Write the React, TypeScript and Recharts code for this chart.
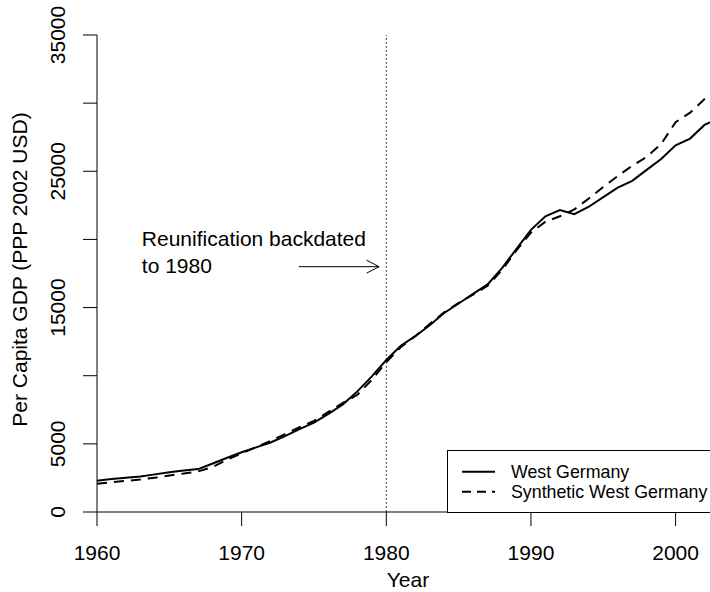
import React from "react";
import { Legend, Line, LineChart, ReferenceDot, ReferenceLine, XAxis, YAxis } from "recharts";

// Per capita GDP, West Germany vs synthetic control.
const years = [
  1960, 1961, 1962, 1963, 1964, 1965, 1966, 1967, 1968, 1969,
  1970, 1971, 1972, 1973, 1974, 1975, 1976, 1977, 1978, 1979,
  1980, 1981, 1982, 1983, 1984, 1985, 1986, 1987, 1988, 1989,
  1990, 1991, 1992, 1993, 1994, 1995, 1996, 1997, 1998, 1999,
  2000, 2001, 2002, 2003,
];

const westGermany = [
  2300, 2420, 2520, 2600, 2760, 2920, 3050, 3150, 3560, 3980,
  4380, 4740, 5100, 5570, 6080, 6560, 7200, 7900, 8850, 9950,
  11150, 12200, 12900, 13700, 14600, 15300, 16000, 16700, 17900, 19300,
  20700, 21700, 22150, 21850, 22400, 23100, 23800, 24300, 25100, 25900,
  26900, 27400, 28400, 28900,
];

const syntheticWestGermany = [
  2080, 2180, 2280, 2380, 2520, 2680, 2820, 2980, 3300, 3850,
  4300, 4760, 5220, 5720, 6220, 6680, 7350, 8000, 8600, 9700,
  11000, 12100, 12900, 13800, 14650, 15350, 15950, 16600, 17750, 19200,
  20500, 21300, 21700, 22200, 23000, 23850, 24650, 25400, 26050, 27000,
  28600, 29300, 30300, 31000,
];

const xTicks = [1960, 1970, 1980, 1990, 2000];
const yTicks = [0, 5000, 10000, 15000, 20000, 25000, 30000, 35000];
const yLabelled = [0, 5000, 15000, 25000, 35000];

const treatmentYear = 1980;
const noteLines = ["Reunification backdated", "to 1980"];
const noteX = 1963.1;
const noteY = 19500;
const arrowFrom = 1973.95;
const arrowTo = 1979.5;
const arrowLevel = 18000;

const series = [
  { key: "west", name: "West Germany", dash: undefined as string | undefined },
  { key: "synth", name: "Synthetic West Germany", dash: "10 7" },
];

const rows = years.map((year, i) => ({
  year,
  west: westGermany[i],
  synth: syntheticWestGermany[i],
}));

const FONT = "'Liberation Sans', Arial, Helvetica, sans-serif";

function YTick(props: any) {
  const { x, y, payload } = props;
  if (!yLabelled.includes(payload.value)) return <g />;
  return (
    <text
      transform={`translate(${x},${y}) rotate(-90)`}
      textAnchor="middle"
      fontSize={21}
      fill="#000"
    >
      {payload.value}
    </text>
  );
}

function LegendBox() {
  return (
    <svg width={330} height={64} style={{ display: "block" }}>
      <rect x={0.5} y={0.5} width={328} height={62} fill="#fff" stroke="#000" strokeWidth={1} />
      {series.map((s, i) => (
        <g key={s.key}>
          <line
            x1={15}
            x2={48}
            y1={21.7 + i * 20}
            y2={21.7 + i * 20}
            stroke="#000"
            strokeWidth={2}
            strokeDasharray={s.dash ? "9 6" : undefined}
          />
          <text x={64} y={28.3 + i * 20} fontSize={17.8} fill="#000" fontFamily={FONT}>
            {s.name}
          </text>
        </g>
      ))}
    </svg>
  );
}

function Arrow(props: any) {
  const { x1, y1, x2, y2 } = props;
  return (
    <g>
      <line x1={x1} y1={y1} x2={x2} y2={y2} stroke="#000" strokeWidth={1} />
      <path
        d={`M${x2 - 12.5},${y2 - 6.5} L${x2},${y2} L${x2 - 12.5},${y2 + 6.5}`}
        fill="none"
        stroke="#000"
        strokeWidth={1}
      />
    </g>
  );
}

function Note(props: any) {
  const { cx, cy } = props;
  return (
    <text x={cx} y={cy} fontSize={21} fill="#000" fontFamily={FONT}>
      {noteLines.map((line, i) => (
        <tspan key={line} x={cx} dy={i === 0 ? 0 : 26.7}>
          {line}
        </tspan>
      ))}
    </text>
  );
}

export default function App() {
  return (
    <div
      style={{
        position: "absolute",
        left: 0,
        top: 0,
        width: 710,
        height: 592,
        overflow: "hidden",
        background: "#fff",
        fontFamily: FONT,
      }}
    >
      <LineChart
        width={760}
        height={592}
        data={rows}
        margin={{ top: 35, right: 41, bottom: 0, left: 0 }}
      >
        <XAxis
          dataKey="year"
          type="number"
          domain={[1960, 2003]}
          ticks={xTicks}
          interval={0}
          height={80}
          stroke="#000"
          tickSize={14}
          tickMargin={19}
          tick={{ fill: "#000", fontSize: 21 }}
          label={{
            content: (p: any) => {
              const vb = p.viewBox;
              return (
                <text x={vb.x + vb.width / 2} y={vb.y + 75} textAnchor="middle" fontSize={21} fill="#000">
                  Year
                </text>
              );
            },
          }}
        />
        <YAxis
          type="number"
          domain={[0, 35000]}
          ticks={yTicks}
          interval={0}
          width={97}
          stroke="#000"
          tickSize={14}
          tickMargin={18}
          tick={<YTick />}
          label={{
            content: (p: any) => {
              const vb = p.viewBox;
              return (
                <text
                  transform={`translate(${vb.x + 27},${vb.y + vb.height / 2 - 4}) rotate(-90)`}
                  textAnchor="middle"
                  fontSize={21}
                  fill="#000"
                >
                  Per Capita GDP (PPP 2002 USD)
                </text>
              );
            },
          }}
        />
        <ReferenceLine x={treatmentYear} stroke="#444" strokeWidth={1} strokeDasharray="2 2" />
        <ReferenceLine
          segment={[
            { x: arrowFrom, y: arrowLevel },
            { x: arrowTo, y: arrowLevel },
          ]}
          shape={Arrow}
        />
        <ReferenceDot x={noteX} y={noteY} shape={Note} />
        {series.map((s) => (
          <Line
            key={s.key}
            type="linear"
            dataKey={s.key}
            name={s.name}
            stroke="#000"
            strokeWidth={2}
            strokeDasharray={s.dash}
            dot={false}
            activeDot={false}
            isAnimationActive={false}
          />
        ))}
        <Legend
          layout="horizontal"
          verticalAlign="middle"
          align="center"
          content={() => <LegendBox />}
          wrapperStyle={{ left: 447, top: 450, width: 330, height: 64 }}
        />
      </LineChart>
    </div>
  );
}
